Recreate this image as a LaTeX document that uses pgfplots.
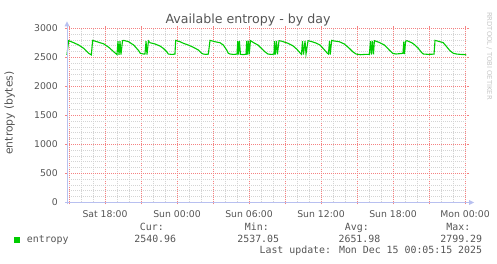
\documentclass[border=0pt]{standalone}
\usepackage{pgfplots}
\pgfplotsset{compat=1.18}
\usepackage{fontspec}
\setmainfont{DejaVu Sans}
\newfontfamily\monofont{DejaVu Sans Mono}
\definecolor{txt}{HTML}{555555}
\definecolor{axiscol}{HTML}{B8C0F0}
\definecolor{mgrid}{RGB}{245,130,130}
\definecolor{ngrid}{RGB}{212,212,212}
\definecolor{entro}{HTML}{00CC00}
\begin{document}
\begin{tikzpicture}[x=1pt,y=1pt]
\useasboundingbox (0,0) rectangle (497,264);
\begin{axis}[
  at={(67pt,61.5pt)}, anchor=south west,
  scale only axis, width=400pt, height=174pt,
  xmin=14.833, xmax=48.167, ymin=0, ymax=3000,
  axis line style={draw=none},
  xtick={15,18,...,48},
  xticklabels={,Sat 18:00,,Sun 00:00,,Sun 06:00,,Sun 12:00,,Sun 18:00,,Mon 00:00},
  minor xtick={16,17,19,20,22,23,25,26,28,29,31,32,34,35,37,38,40,41,43,44,46,47},
  ytick={0,500,...,3000},
  minor ytick={100,200,300,400,600,700,800,900,1100,1200,1300,1400,1600,1700,1800,1900,2100,2200,2300,2400,2600,2700,2800,2900},
  grid=both,
  major grid style={mgrid, line width=0.8pt, dash pattern=on 1pt off 1pt},
  minor grid style={ngrid, line width=0.8pt, dash pattern=on 1pt off 1pt},
  tick align=outside,
  major tick length=2pt, minor tick length=0pt,
  major tick style={mgrid, line width=0.8pt},
  /pgf/number format/assume math mode=true,
  /pgf/number format/1000 sep={},
  tick label style={font=\fontsize{9.3}{11}\selectfont, text=txt, inner sep=0pt},
  xticklabel style={anchor=base, yshift=-13.2pt},
  yticklabel style={anchor=east, xshift=-7pt},
  clip=false,
]
\addplot[entro, line width=1.1pt] coordinates {
(14.83,2545) (14.97,2790) (15.39,2755) (15.81,2715) (16.22,2658) (16.64,2572) (16.86,2545)
(16.97,2795) (17.33,2772) (17.89,2735) (18.31,2676) (18.72,2600) (19.00,2550)
(19.08,2780) (19.17,2545) (19.25,2780) (19.33,2550) (19.46,2790) (19.56,2795)
(19.97,2772) (20.39,2715) (20.81,2617) (20.94,2572) (21.22,2560) (21.33,2560)
(21.42,2780) (21.50,2550) (21.62,2785) (21.75,2755) (22.17,2733) (22.58,2698)
(22.86,2658) (23.14,2600) (23.28,2560) (23.55,2553) (23.83,2558)
(23.89,2795) (24.25,2772) (24.53,2745) (24.94,2715) (25.36,2676) (25.78,2629)
(26.06,2572) (26.19,2560) (26.40,2554) (26.61,2558)
(26.75,2795) (27.17,2772) (27.58,2755) (27.86,2715) (28.14,2629) (28.28,2572)
(28.42,2560) (28.70,2553) (29.00,2558)
(29.06,2780) (29.12,2550) (29.20,2785) (29.29,2555) (29.50,2550) (29.75,2555)
(29.81,2785) (29.87,2550) (29.96,2790) (30.02,2555) (30.12,2790)
(30.47,2745) (30.75,2715) (31.03,2658) (31.31,2600) (31.58,2560) (31.85,2553) (32.08,2558)
(32.12,2780) (32.19,2550) (32.29,2785) (32.37,2555) (32.50,2790) (32.75,2780)
(33.25,2745) (33.67,2700) (34.00,2640) (34.25,2580) (34.37,2555)
(34.46,2780) (34.54,2550) (34.67,2785) (34.75,2560) (34.92,2790)
(35.25,2772) (35.58,2750) (35.92,2715) (36.25,2640) (36.50,2580) (36.62,2560)
(36.71,2785) (36.77,2550) (36.89,2795) (37.08,2785)
(37.53,2772) (37.94,2733) (38.36,2658) (38.64,2600) (38.92,2560)
(39.30,2548) (39.70,2554) (40.03,2555)
(40.12,2780) (40.20,2550) (40.28,2785) (40.37,2555) (40.45,2790)
(40.86,2760) (41.28,2715) (41.69,2629) (41.97,2572) (42.25,2560) (42.55,2566) (42.83,2572)
(42.90,2775) (42.96,2560) (43.05,2780) (43.16,2790)
(43.56,2755) (43.83,2715) (44.11,2658) (44.39,2584) (44.53,2560) (44.95,2554) (45.42,2558)
(45.50,2795) (45.92,2772) (46.19,2755) (46.47,2686) (46.75,2617) (47.03,2572)
(47.30,2560) (47.65,2553) (48.00,2550) (48.10,2541)
};
\end{axis}
% axis lines with arrows
\draw[axiscol, line width=1pt] (65,61.5) -- (470,61.5);
\fill[axiscol] (474,61.5) -- (469,64) -- (469,59) -- cycle;
\draw[axiscol, line width=1pt] (67,59.5) -- (67,238.5);
\fill[axiscol] (67,242.5) -- (69.5,237.5) -- (64.5,237.5) -- cycle;
% title
\node[anchor=base, text=txt, font=\fontsize{12.6}{14}\selectfont, inner sep=0pt] at (248,240) {Available entropy - by day};
% y label
\node[anchor=base, rotate=90, text=txt, font=\fontsize{10.8}{13}\selectfont, inner sep=0pt] at (12.5,151) {entropy (bytes)};
% watermark
\node[anchor=base, rotate=-90, text=black!22, font=\fontsize{6.8}{8}\selectfont, inner sep=0pt] at (487.2,208) {RRDTOOL / TOBI OETIKER};
% legend
\fill[entro] (14,21.3) rectangle (20,27.3);
\begin{scope}[every node/.style={inner sep=0pt, text=txt, font=\monofont\fontsize{9.9}{12}\selectfont}]
\node[anchor=base west] at (26.7,21.3) {entropy};
\node[anchor=base east] at (164,33) {Cur:};
\node[anchor=base east] at (176.3,21.3) {2540.96};
\node[anchor=base east] at (269,33) {Min:};
\node[anchor=base east] at (279.3,21.3) {2537.05};
\node[anchor=base east] at (369,33) {Avg:};
\node[anchor=base east] at (380.5,21.3) {2651.98};
\node[anchor=base east] at (470.5,33) {Max:};
\node[anchor=base east] at (482.3,21.3) {2799.29};
\node[anchor=base east] at (482.3,10) {Last update: Mon Dec 15 00:05:15 2025};
\end{scope}
\end{tikzpicture}
\end{document}
